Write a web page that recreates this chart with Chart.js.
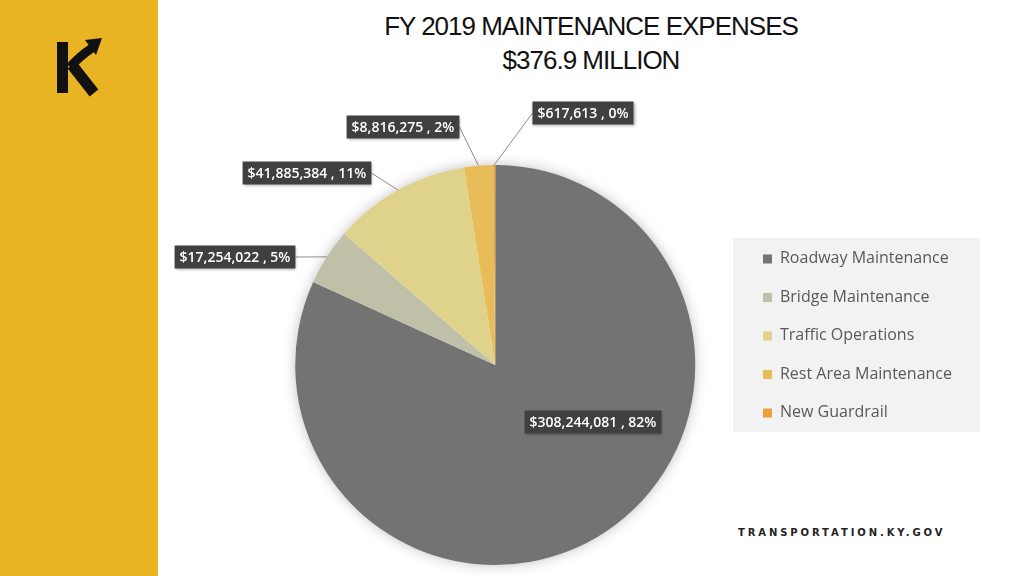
<!DOCTYPE html>
<html>
<head>
<meta charset="utf-8">
<script src="https://cdn.jsdelivr.net/npm/chart.js@4.4.0/dist/chart.umd.min.js"></script>
<style>
  body { margin: 0; width: 1024px; height: 576px; overflow: hidden; background: #fff; position: relative; }
  #band { position: absolute; left: 0; top: 0; width: 158px; height: 576px; background: #e9b424; }
  #logo { position: absolute; left: 50px; top: 34px; }
  #title { position: absolute; left: 158px; width: 866px; top: 9px; text-align: center;
           font-family: 'Liberation Sans', sans-serif; font-size: 26px; letter-spacing: -1px;
           line-height: 34px; color: #111; }
  #footer { position: absolute; left: 738px; top: 527px; font-family: 'DejaVu Sans', sans-serif;
            font-size: 10px; font-weight: bold; letter-spacing: 2.9px; color: #222; }
  #chartBox { position: absolute; left: 158px; top: 0; }
</style>
</head>
<body>
<div id="band">
  <svg id="logo" width="60" height="66" viewBox="0 0 60 66">
    <rect x="7" y="8" width="11" height="51" fill="#111"/>
    <path d="M22 31 L44 59" stroke="#111" stroke-width="11" fill="none"/>
    <path d="M20 33 Q30 22 42 14" stroke="#111" stroke-width="9" fill="none"/>
    <path d="M35 6 L52 4 L46 21 Z" fill="#111"/>
  </svg>
</div>
<div id="title">FY 2019 MAINTENANCE EXPENSES<br>$376.9 MILLION</div>
<div id="footer">TRANSPORTATION.KY.GOV</div>
<div id="chartBox"><canvas id="pieChart" width="866" height="576"></canvas></div>

<script>
const categories = ['Roadway Maintenance', 'Bridge Maintenance', 'Traffic Operations', 'Rest Area Maintenance', 'New Guardrail'];
const expenses = [308244081, 17254022, 41885384, 8816275, 617613];
const sliceColors = ['#737373', '#c0c0a9', '#dfd38b', '#e8bc58', '#e9a03b'];

// where each value box sits on the canvas (layout only)
const labelSpots = [[435, 422], [77, 257], [149, 173], [245, 127], [425, 113]];

const total = expenses.reduce((a, b) => a + b, 0);

function labelText(i) {
    let pct = Math.round(expenses[i] / total * 100);
    return '$' + expenses[i].toLocaleString('en-US') + ' , ' + pct + '%';
}

// soft shadow behind the pie
const pieShadow = {
    id: 'pieShadow',
    beforeDatasetsDraw(chart) {
        let arc = chart.getDatasetMeta(0).data[0];
        let ctx = chart.ctx;
        ctx.save();
        ctx.shadowColor = 'rgba(0,0,0,0.28)';
        ctx.shadowBlur = 14;
        ctx.fillStyle = '#fff';
        ctx.beginPath();
        ctx.arc(arc.x, arc.y, arc.outerRadius - 1, 0, Math.PI * 2);
        ctx.fill();
        ctx.restore();
    }
};

// light panel behind the legend
const legendPanel = {
    id: 'legendPanel',
    beforeDraw(chart) {
        let hb = chart.legend.legendHitBoxes;
        if (!hb || !hb.length) return;
        let ctx = chart.ctx;
        let first = hb[0], last = hb[hb.length - 1];
        let top = first.top - 13;
        ctx.save();
        ctx.fillStyle = '#f2f2f2';
        ctx.fillRect(first.left - 30, top, 247, last.top + last.height + 11 - top);
        ctx.restore();
    }
};

// dark value boxes with leader lines
const sliceLabels = {
    id: 'sliceLabels',
    afterDatasetsDraw(chart) {
        let ctx = chart.ctx;
        let arcs = chart.getDatasetMeta(0).data;
        ctx.save();
        ctx.font = '600 14px "Open Sans", sans-serif';
        ctx.textAlign = 'center';
        ctx.textBaseline = 'middle';
        arcs.forEach((arc, i) => {
            let [bx, by] = labelSpots[i];
            let text = labelText(i);
            let w = ctx.measureText(text).width + 10;
            let h = 23;
            if (i > 0) {
                let mid = (arc.startAngle + arc.endAngle) / 2;
                let px = arc.x + Math.cos(mid) * arc.outerRadius;
                let py = arc.y + Math.sin(mid) * arc.outerRadius;
                let ex, ey;
                if (px < bx - w / 2) { ex = bx - w / 2; ey = by; }
                else if (px > bx + w / 2) { ex = bx + w / 2; ey = by; }
                else { ex = px; ey = py < by ? by - h / 2 : by + h / 2; }
                ctx.strokeStyle = '#8c8c8c';
                ctx.lineWidth = 1;
                ctx.beginPath();
                ctx.moveTo(px, py);
                ctx.lineTo(ex, ey);
                ctx.stroke();
            }
            ctx.shadowColor = 'rgba(0,0,0,0.35)';
            ctx.shadowBlur = 3;
            ctx.shadowOffsetX = 1;
            ctx.shadowOffsetY = 1;
            ctx.fillStyle = '#404040';
            ctx.fillRect(bx - w / 2, by - h / 2, w, h);
            ctx.shadowColor = 'transparent';
            ctx.fillStyle = '#ffffff';
            ctx.fillText(text, bx, by + 1);
        });
        ctx.restore();
    }
};

new Chart(document.getElementById('pieChart'), {
    type: 'pie',
    data: {
        labels: categories,
        datasets: [{
            data: expenses,
            backgroundColor: sliceColors,
            borderWidth: 0
        }]
    },
    options: {
        responsive: false,
        animation: false,
        events: [],
        layout: {
            padding: { left: 92, top: 165, bottom: 11, right: 62 }
        },
        plugins: {
            tooltip: { enabled: false },
            legend: {
                position: 'right',
                align: 'start',
                title: { display: true, text: '', padding: { top: 25, bottom: 24 } },
                labels: {
                    boxWidth: 9,
                    boxHeight: 9,
                    padding: 22.5,
                    color: '#595959',
                    font: { family: '"Open Sans", sans-serif', size: 16 }
                }
            }
        }
    },
    plugins: [pieShadow, legendPanel, sliceLabels]
});
</script>
</body>
</html>
